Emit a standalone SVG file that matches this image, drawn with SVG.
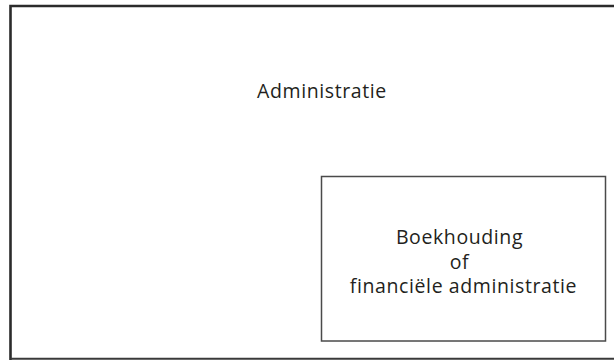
<svg xmlns="http://www.w3.org/2000/svg" width="614" height="360" viewBox="0 0 614 360">
  <style>
    .lbl { font-family: "Open Sans", "Noto Sans", sans-serif; font-size: 19.5px; letter-spacing: 0.6px; fill: #231f20; text-anchor: middle; }
  </style>
  <rect width="614" height="360" fill="#ffffff"/>
  <g id="administratie">
    <path d="M10.5 360 V6 H614" fill="none" stroke="#2b2b2b" stroke-width="2.6"/>
    <path d="M10.5 358.8 H614" fill="none" stroke="#3a3a3a" stroke-width="2"/>
    <text class="lbl" x="322" y="98">Administratie</text>
  </g>
  <g id="boekhouding">
    <rect x="321.5" y="176.5" width="284" height="164.5" fill="none" stroke="#4a4a4a" stroke-width="1.5"/>
    <text class="lbl" x="459.5" y="244">Boekhouding</text>
    <text class="lbl" x="459.5" y="268.5">of</text>
    <text class="lbl" x="463.5" y="293">financiële administratie</text>
  </g>
  <g id="connectors"/>
</svg>
